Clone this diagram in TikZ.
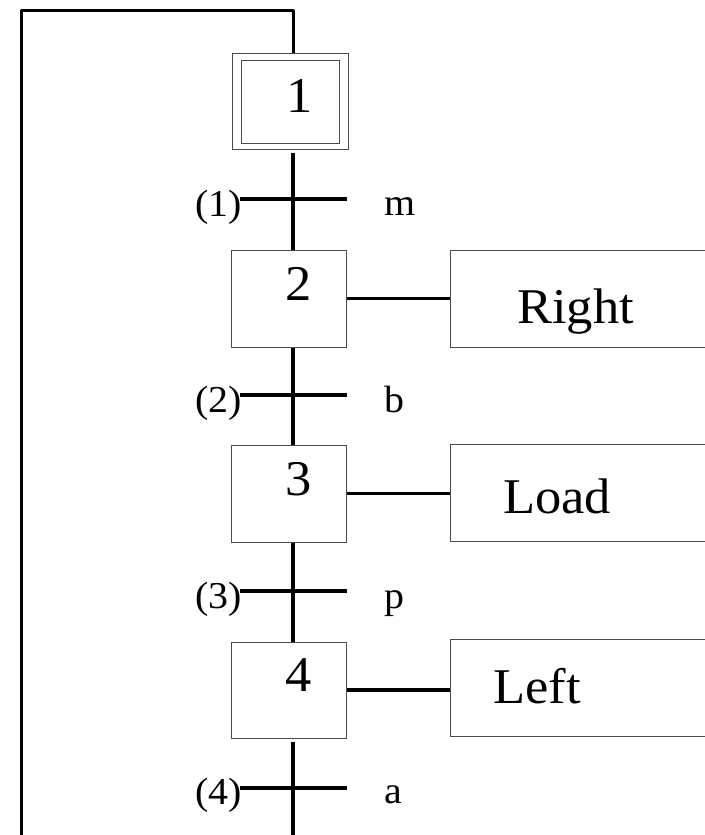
\documentclass[tikz,border=0pt]{standalone}
\usepackage{fontspec}
\setmainfont{Liberation Serif}[FakeStretch=1.05]
\begin{document}
\begin{tikzpicture}[x=1pt,y=-1pt,
  stepbox/.style={draw=black!70,line width=1pt,rectangle,inner sep=0pt,minimum width=115pt,minimum height=97pt},
  actbox/.style={draw=black!70,line width=1pt,rectangle,inner sep=0pt,minimum width=270pt,minimum height=97pt},
  flow/.style={line width=4pt},
  loopline/.style={line width=3pt,line join=round},
  actline/.style={line width=3.5pt},
  trans/.style={line width=4pt},
  num/.style={inner sep=0pt,anchor=base,font=\fontsize{50}{60}\selectfont},
  acttext/.style={inner sep=0pt,anchor=base west,font=\fontsize{50}{60}\selectfont},
  lbl/.style={inner sep=0pt,font=\fontsize{38}{46}\selectfont}]
\useasboundingbox (0,0) rectangle (704,835);
\coordinate (fx) at (293,0);
% steps
\node[stepbox,minimum width=116pt,minimum height=96pt] (s1) at (290,101) {};
\node[draw=black!70,line width=1pt,inner sep=0pt,minimum width=98pt,minimum height=83pt] (s1in) at (290,101.5) {};
\node[stepbox] (s2) at (288.5,298.5) {};
\node[stepbox] (s3) at (288.5,493.5) {};
\node[stepbox,minimum height=96pt] (s4) at (288.5,690) {};
\node[num] (n1) at (300,112) {1};
\node[num] (n2) at (299,300) {2};
\node[num] (n3) at (299,495) {3};
\node[num] (n4) at (299,691) {4};
% actions
\node[actbox] (a2) at (585,298.5) {};
\node[actbox] (a3) at (585,492.5) {};
\node[actbox] (a4) at (585,688) {};
\node[acttext] (r2) at (517,323) {Right};
\node[acttext] (r3) at (503,513) {Load};
\node[acttext] (r4) at (493,703) {Left};
\draw[actline] (s2.east) -- (s2.east -| a2.west);
\draw[actline] (s3.east) -- (s3.east -| a3.west);
\draw[actline] (s4.east) -- (s4.east -| a4.west);
% flow
\coordinate (lb) at (21,835);
\coordinate (lt) at (21,10);
\coordinate (rt) at (293,10);
\coordinate (bot) at (293,835);
\draw[loopline] (lb) -- (lt) -- (rt) -- (s1.north -| fx);
\draw[flow] ([yshift=-3pt]s1.south -| fx) -- (s2.north -| fx);
\draw[flow] (s2.south -| fx) -- (s3.north -| fx);
\draw[flow] (s3.south -| fx) -- (s4.north -| fx);
\draw[flow] ([yshift=-3pt]s4.south -| fx) -- (bot);
% transitions
\coordinate (t1) at (293,199);
\coordinate (t2) at (293,395);
\coordinate (t3) at (293,591);
\coordinate (t4) at (293,788);
\foreach \t in {t1,t2,t3,t4}{\draw[trans] ([xshift=-53pt]\t) -- ([xshift=54pt]\t);}
\node[lbl,anchor=base east] (l1) at (242,216) {(1)};
\node[lbl,anchor=base east] (l2) at (242,412) {(2)};
\node[lbl,anchor=base east] (l3) at (242,608) {(3)};
\node[lbl,anchor=base east] (l4) at (242,804) {(4)};
\node[lbl,anchor=base west] (c1) at (384,215) {m};
\node[lbl,anchor=base west] (c2) at (384,412) {b};
\node[lbl,anchor=base west] (c3) at (384,608) {p};
\node[lbl,anchor=base west] (c4) at (384,803) {a};
\end{tikzpicture}
\end{document}
